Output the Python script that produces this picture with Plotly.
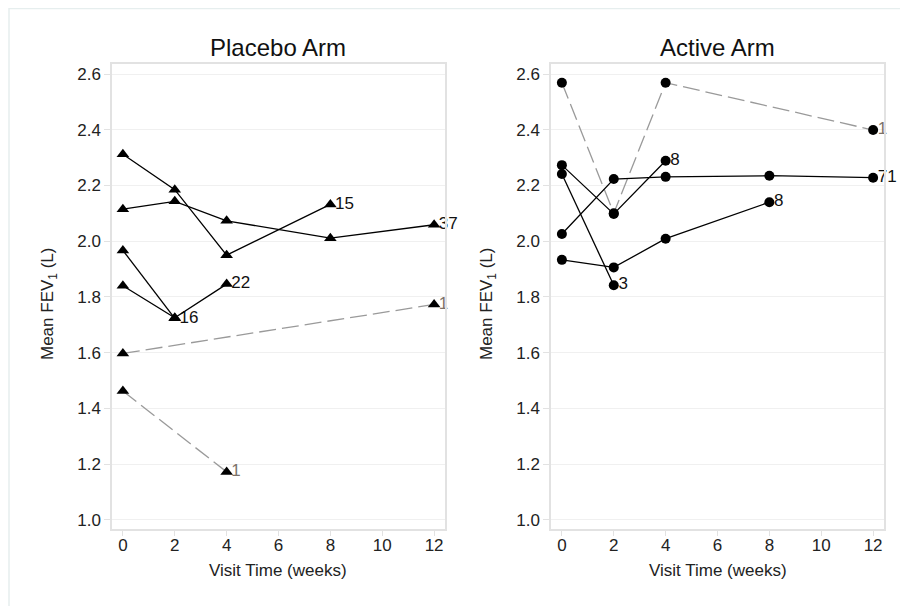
import plotly.graph_objects as go

# ---- data ----
placebo_x = [
    [0, 2, 4, 8],
    [0, 2, 4, 8, 12],
    [0, 2],
    [0, 2, 4],
    [0, 12],
    [0, 4],
]
placebo_y = [
    [2.312, 2.185, 1.950, 2.132],
    [2.115, 2.143, 2.073, 2.011, 2.059],
    [1.967, 1.723],
    [1.840, 1.725, 1.846],
    [1.597, 1.773],
    [1.462, 1.172],
]
placebo_n = ["15", "37", "16", "22", "1", "1"]
placebo_single = [False, False, False, False, True, True]

active_x = [
    [0, 2, 4, 12],
    [0, 2, 4],
    [0, 2, 4, 8, 12],
    [0, 2],
    [0, 2, 4, 8],
]
active_y = [
    [2.569, 2.100, 2.569, 2.399],
    [2.273, 2.098, 2.289],
    [2.026, 2.223, 2.231, 2.235, 2.228],
    [2.241, 1.842],
    [1.933, 1.906, 2.009, 2.140],
]
active_n = ["1", "8", "71", "3", "8"]
active_single = [True, False, False, False, False]

x_ticks = [0, 2, 4, 6, 8, 10, 12]
y_ticks = [1.0, 1.2, 1.4, 1.6, 1.8, 2.0, 2.2, 2.4, 2.6]
panel_titles = ["Placebo Arm", "Active Arm"]
x_title = "Visit Time (weeks)"
y_title = "Mean FEV<sub>1</sub> (L)"

FONT = "Liberation Sans, Arial, sans-serif"
W, H = 908, 606
OFF = 8  # page body margin offset


def fx(p):
    return (p - OFF) / W


def fy(p):
    return 1 - (p - OFF) / H


fig = go.Figure()


def add_panel(xs, ys, ns, singles, symbol, msize, xa, ya):
    for x, y, n, single in zip(xs, ys, ns, singles):
        lc = "#9a9a9a" if single else "#000000"
        dash = "17px,6px" if single else "solid"
        fig.add_trace(go.Scatter(
            x=x, y=y, mode="lines+markers",
            line=dict(color=lc, width=1.3, dash=dash),
            marker=dict(symbol=symbol, size=msize, color="black"),
            xaxis=xa, yaxis=ya, showlegend=False, hoverinfo="skip",
            cliponaxis=False))
        fig.add_trace(go.Scatter(
            x=[x[-1]], y=[y[-1]], mode="text", text=[" " + n],
            textposition="middle right",
            textfont=dict(family=FONT, size=17,
                          color="#7d726a" if single else "#111111"),
            xaxis=xa, yaxis=ya, showlegend=False, hoverinfo="skip",
            cliponaxis=False))


add_panel(placebo_x, placebo_y, placebo_n, placebo_single,
          "triangle-up", 11, "x", "y")
add_panel(active_x, active_y, active_n, active_single,
          "circle", 10, "x2", "y2")

ydom = [fy(529), fy(64)]
tick_font = dict(family=FONT, size=17, color="#222222")
common_x = dict(range=[-0.42, 12.42], tickvals=x_ticks, showgrid=False,
                zeroline=False, showline=True, linecolor="#e2e2e2",
                linewidth=1.5, mirror=True, ticks="outside", ticklen=5,
                tickcolor="#e2e2e2", tickfont=tick_font,
                ticklabelstandoff=-5)
common_y = dict(range=[0.967, 2.636], tickvals=y_ticks,
                ticktext=[f"{v:.1f}" for v in y_ticks],
                showgrid=True, gridcolor="#f0f0f0", gridwidth=1,
                zeroline=False, showline=True, linecolor="#e2e2e2",
                linewidth=1.5, mirror=True, ticks="outside", ticklen=6,
                tickcolor="#e2e2e2", tickfont=tick_font)

fig.update_layout(
    width=W, height=H,
    margin=dict(l=0, r=0, t=0, b=0),
    paper_bgcolor="white", plot_bgcolor="white",
    font=dict(family=FONT),
    xaxis=dict(domain=[fx(112), fx(445)], anchor="y", **common_x),
    yaxis=dict(domain=ydom, anchor="x", **common_y),
    xaxis2=dict(domain=[fx(551), fx(884)], anchor="y2", **common_x),
    yaxis2=dict(domain=ydom, anchor="x2", **common_y),
)

# panel titles and axis titles
for title, cx, xt_cx, yt_cx in zip(panel_titles, [278, 717],
                                   [278, 718], [49, 488]):
    fig.add_annotation(text=title, x=fx(cx), y=fy(47), xref="paper",
                       yref="paper", showarrow=False,
                       font=dict(family=FONT, size=24, color="#111111"),
                       xanchor="center", yanchor="middle")
    fig.add_annotation(text=x_title, x=fx(xt_cx), y=fy(570), xref="paper",
                       yref="paper", showarrow=False, font=tick_font,
                       xanchor="center", yanchor="middle")
    fig.add_annotation(text=y_title, x=fx(yt_cx), y=fy(304), xref="paper",
                       yref="paper", showarrow=False, font=tick_font,
                       textangle=-90, xanchor="center", yanchor="middle")

# outer frame
fig.add_shape(type="rect", xref="paper", yref="paper",
              x0=fx(9), x1=1.05, y0=-0.05, y1=fy(8.5),
              line=dict(color="#e6eeee", width=1.5), layer="below")

fig.write_html("out.html")
